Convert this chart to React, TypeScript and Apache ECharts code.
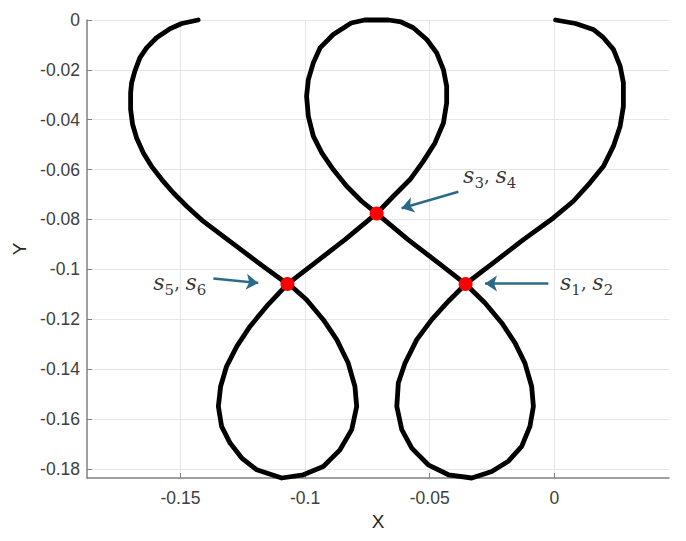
import React, { useEffect, useRef } from "react";
import * as echarts from "echarts";

// Curve traced along its path (start at left arm top, end at right arm top)
const curveX = [
  -0.1429, -0.1495, -0.1542, -0.1596, -0.1636, -0.1663, -0.1683, -0.1696, -0.17, -0.17, -0.1692,
  -0.1676, -0.1649, -0.1616, -0.1575, -0.1529, -0.1475, -0.1409, -0.1328, -0.1248, -0.1168, -0.1071,
  -0.1047, -0.0994, -0.0927, -0.0873, -0.0827, -0.08, -0.0793, -0.0813, -0.086, -0.0927, -0.1007,
  -0.1094, -0.1194, -0.1254, -0.1301, -0.1335, -0.1348, -0.1339, -0.1315, -0.1274, -0.1221, -0.1154,
  -0.1071, -0.0967, -0.084, -0.0713,
  -0.0646, -0.0579, -0.0526, -0.0479, -0.0445, -0.0432, -0.0432, -0.0445, -0.0472, -0.0512, -0.0566,
  -0.0615, -0.0665, -0.0761, -0.0815, -0.0887, -0.094, -0.0967, -0.0987, -0.0994, -0.0987, -0.0967,
  -0.0933, -0.0887, -0.0833, -0.0773, -0.0713,
  -0.0587, -0.0459, -0.0356,
  -0.0278, -0.0211, -0.0158, -0.0118, -0.0091, -0.0084, -0.0098, -0.0131, -0.0185, -0.0251, -0.0331,
  -0.0425, -0.0506, -0.0572, -0.0612, -0.0632, -0.0626, -0.0599, -0.0552, -0.0492, -0.0425, -0.0356,
  -0.0245, -0.0124, -0.0004, 0.0076, 0.0143, 0.0197, 0.0237, 0.0264, 0.0277, 0.0277, 0.0264, 0.0237,
  0.0197, 0.0156, 0.0085, 0.0005,
];
const curveY = [
  0, -0.0014, -0.0035, -0.0071, -0.0112, -0.0152, -0.0205, -0.0252, -0.0292, -0.0359, -0.0419,
  -0.0473, -0.0533, -0.0587, -0.064, -0.0693, -0.0747, -0.0807, -0.0868, -0.0928, -0.0988, -0.1059,
  -0.1075, -0.1122, -0.1202, -0.1282, -0.1376, -0.147, -0.155, -0.1643, -0.1724, -0.1791, -0.1824,
  -0.1837, -0.1804, -0.1757, -0.1697, -0.163, -0.155, -0.147, -0.1389, -0.1309, -0.1229, -0.1148,
  -0.1059, -0.0979, -0.0881, -0.0776,
  -0.0707, -0.064, -0.0567, -0.0493, -0.0413, -0.0332, -0.0266, -0.0199, -0.0132, -0.0078, -0.0031,
  -0.0008, 0, 0, -0.0012, -0.0058, -0.0112, -0.0172, -0.0239, -0.0306, -0.0386, -0.0466,
  -0.0533, -0.06, -0.0667, -0.0727, -0.0776,
  -0.0881, -0.0979, -0.1059,
  -0.1135, -0.1215, -0.1295, -0.1376, -0.147, -0.155, -0.163, -0.171, -0.177, -0.1811, -0.1837,
  -0.1824, -0.1784, -0.1717, -0.1643, -0.155, -0.1456, -0.1376, -0.1282, -0.1202, -0.1128, -0.1059,
  -0.0974, -0.0881, -0.0794, -0.0727, -0.0653, -0.0587, -0.0506, -0.0426, -0.0346, -0.0252, -0.0185, -0.0118,
  -0.0071, -0.0038, -0.0014, 0,
];

// Self-intersection points
const crossingX = [-0.1071, -0.0713, -0.0356];
const crossingY = [-0.1059, -0.0776, -0.1059];

// Axis ticks and limits
const xTicks = [-0.15, -0.1, -0.05, 0];
const yTicks = [0, -0.02, -0.04, -0.06, -0.08, -0.1, -0.12, -0.14, -0.16, -0.18];
const xLimits = [-0.1875, 0.046];
const yLimits = [-0.1837, 0];

// Annotations: s_a, s_b labels and arrows
const labelSubscripts = [
  ["5", "6"],
  ["3", "4"],
  ["1", "2"],
];
const labelX = [-0.1611, -0.0368, 0.0021];
const labelY = [-0.1052, -0.0624, -0.1054];
const arrowTailX = [-0.1368, -0.0385, -0.0024];
const arrowTailY = [-0.1037, -0.0689, -0.1057];
const arrowTipX = [-0.1188, -0.0613, -0.0278];
const arrowTipY = [-0.1055, -0.0755, -0.1057];

const sansFont = "'Liberation Sans', Arial, Helvetica, sans-serif";
const serifFont = "'DejaVu Serif', serif";
const axisColor = "#808080";
const gridColor = "#e6e6e6";
const arrowColor = "#2c6a8a";

export default function App() {
  const ref = useRef<HTMLDivElement>(null);

  useEffect(() => {
    if (!ref.current) return;
    const chart = echarts.init(ref.current, null, { renderer: "svg" });

    const curveData = curveX.map((x, i) => [x, curveY[i]]);
    const crossingData = crossingX.map((x, i) => [x, crossingY[i]]);
    const labelData = labelX.map((x, i) => [x, labelY[i]]);
    const arrowData = arrowTailX.map((x, i) => [
      { coord: [x, arrowTailY[i]] },
      { coord: [arrowTipX[i], arrowTipY[i]] },
    ]);

    const tickLabel = {
      fontFamily: sansFont,
      fontSize: 17.5,
      color: "#404040",
    };

    chart.setOption({
      animation: false,
      backgroundColor: "#ffffff",
      grid: { left: 87, right: 17, top: 20, bottom: 63, containLabel: false },
      xAxis: {
        type: "value",
        min: xLimits[0],
        max: xLimits[1],
        name: "X",
        nameLocation: "middle",
        nameGap: 32,
        nameTextStyle: { fontFamily: sansFont, fontSize: 19, color: "#262626" },
        axisLine: { show: true, onZero: false, lineStyle: { color: axisColor, width: 1.5 } },
        axisTick: {
          show: true,
          inside: true,
          length: 5,
          customValues: xTicks,
          lineStyle: { color: axisColor, width: 1 },
        },
        axisLabel: {
          ...tickLabel,
          margin: 11,
          customValues: xTicks,
          formatter: (v: number) => String(v),
        },
        splitLine: { show: true, lineStyle: { color: gridColor, width: 1 } },
      },
      yAxis: {
        type: "value",
        min: yLimits[0],
        max: yLimits[1],
        name: "Y",
        nameLocation: "middle",
        nameGap: 55,
        nameTextStyle: { fontFamily: sansFont, fontSize: 19, color: "#262626" },
        axisLine: { show: true, onZero: false, lineStyle: { color: axisColor, width: 1.5 } },
        axisTick: {
          show: true,
          inside: true,
          length: 5,
          customValues: yTicks,
          lineStyle: { color: axisColor, width: 1 },
        },
        axisLabel: {
          ...tickLabel,
          margin: 7,
          customValues: yTicks,
          formatter: (v: number) => String(v),
        },
        splitLine: { show: true, lineStyle: { color: gridColor, width: 1 } },
      },
      series: [
        {
          name: "curve",
          type: "line",
          data: curveData,
          showSymbol: false,
          symbol: "none",
          smooth: false,
          clip: false,
          z: 3,
          lineStyle: { color: "#000000", width: 4.8, join: "round", cap: "round" },
          silent: true,
        },
        {
          name: "crossings",
          type: "scatter",
          data: crossingData,
          symbol: "circle",
          symbolSize: 14,
          z: 5,
          itemStyle: { color: "#ff0000", opacity: 1 },
          silent: true,
        },
        {
          name: "labels",
          type: "scatter",
          data: labelData,
          symbol: "circle",
          symbolSize: 1,
          itemStyle: { color: "rgba(0,0,0,0)" },
          z: 6,
          silent: true,
          label: {
            show: true,
            position: "right",
            distance: 0,
            formatter: (p: any) => {
              const [a, b] = labelSubscripts[p.dataIndex];
              return `{s|s}{sub|${a}}{c|, }{s|s}{sub|${b}}`;
            },
            rich: {
              s: {
                fontFamily: serifFont,
                fontStyle: "italic",
                fontSize: 22,
                lineHeight: 30,
                color: "#000000",
              },
              c: {
                fontFamily: serifFont,
                fontSize: 18,
                lineHeight: 30,
                color: "#000000",
              },
              sub: {
                fontFamily: serifFont,
                fontSize: 15,
                lineHeight: 15,
                verticalAlign: "bottom",
                color: "#000000",
              },
            },
          },
          markLine: {
            silent: true,
            symbol: ["none", "arrow"],
            symbolSize: 12,
            label: { show: false },
            itemStyle: { color: arrowColor, opacity: 1 },
            lineStyle: { color: arrowColor, width: 2.5, type: "solid", opacity: 1 },
            emphasis: { disabled: true },
            data: arrowData,
          },
        },
      ],
    });

    return () => {
      chart.dispose();
    };
  }, []);

  return (
    <div
      ref={ref}
      style={{ position: "absolute", left: 0, top: 0, width: 686, height: 541 }}
    />
  );
}
